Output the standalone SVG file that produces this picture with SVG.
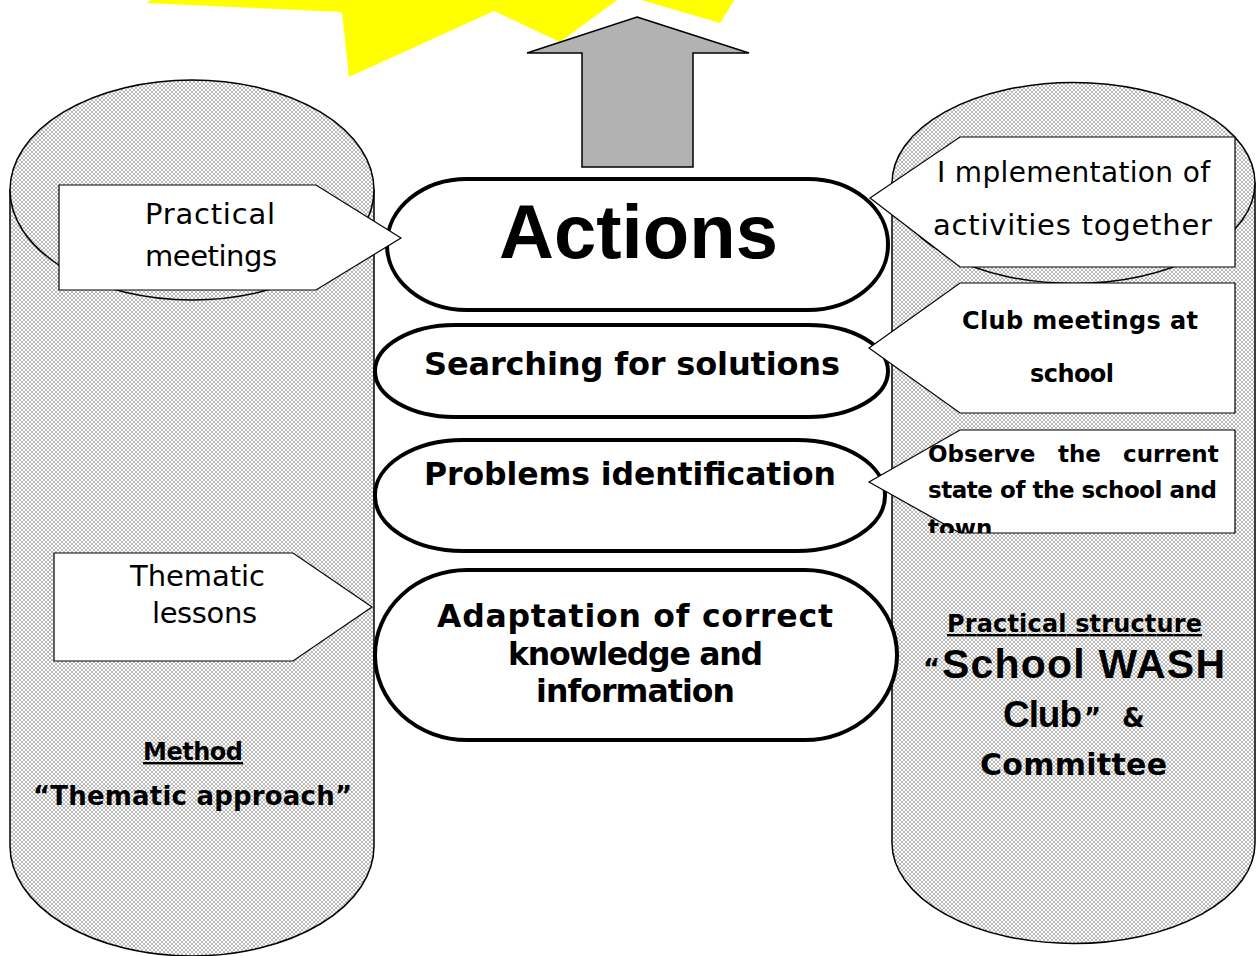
<svg xmlns="http://www.w3.org/2000/svg" width="1256" height="956" viewBox="0 0 1256 956">
<defs>
  <pattern id="hatch" width="4" height="4" patternUnits="userSpaceOnUse">
    <rect width="4" height="4" fill="#ffffff"/>
    <path d="M0,0 L4,4 M4,0 L0,4" stroke="#9a9a9a" stroke-width="0.7"/>
  </pattern>
  <clipPath id="clipObs"><rect x="860" y="425" width="380" height="108"/></clipPath>
</defs>
<style>
  .cyl{fill:url(#hatch);stroke:#000;stroke-width:1.5}
  .pill{fill:#fff;stroke:#000;stroke-width:4}
  .call{fill:#fff;stroke:#000;stroke-width:1.2}
  text{font-family:"DejaVu Sans","Liberation Sans",Arial,sans-serif;fill:#000}
  .lib{font-family:"Liberation Sans",Arial,sans-serif}
  .b{font-weight:bold}
  .u{text-decoration:underline}
</style>
<rect width="1256" height="956" fill="#fff"/>

<g id="star">
  <polygon fill="#ffff00" points="146,3 342,12 349,77 494,11 560,42 624,-5 720,23 750,-25 200,-25"/>
</g>

<g id="cyl-left">
  <path class="cyl" d="M10,190 L10,846 A182,110 0 0 0 374,846 L374,190 Z"/>
  <ellipse class="cyl" cx="192" cy="190" rx="182" ry="110"/>
  <text class="b u" x="143" y="760" font-size="24" textLength="100" lengthAdjust="spacing">Method</text>
  <text class="b" x="33" y="805" font-size="26" textLength="319" lengthAdjust="spacing">“Thematic approach”</text>
</g>

<g id="cyl-right">
  <path class="cyl" d="M892,183 L892,843 A181.5,100.5 0 0 0 1255,843 L1255,183 Z"/>
  <ellipse class="cyl" cx="1073.5" cy="183" rx="181.5" ry="100.5"/>
  <text class="b u" x="947" y="632" font-size="24" textLength="255" lengthAdjust="spacing">Practical structure</text>
  <text class="b" x="923" y="678" font-size="26">“</text>
  <text class="b lib" x="942" y="678" font-size="41" textLength="283" lengthAdjust="spacing">School WASH</text>
  <text class="b lib" x="1003" y="727" font-size="37" textLength="79" lengthAdjust="spacing">Club</text>
  <text class="b" x="1084" y="727" font-size="26">”</text>
  <text class="b" x="1122" y="727" font-size="26">&amp;</text>
  <text class="b" x="980" y="775" font-size="30" textLength="187" lengthAdjust="spacing">Committee</text>
</g>

<g id="connectors">
  <polygon fill="#b2b2b2" stroke="#000" stroke-width="1.5" points="637,17 749,53 693,53 693,167 582,167 582,53 527,53"/>
</g>

<g id="pill-actions">
  <rect class="pill" x="387" y="179" width="501" height="131" rx="80" ry="65"/>
  <text class="b lib" x="499" y="258" font-size="76" textLength="279" lengthAdjust="spacing">Actions</text>
</g>
<g id="pill-searching">
  <rect class="pill" x="375" y="325" width="513" height="92" rx="80" ry="46"/>
  <text class="b" x="424" y="375" font-size="32" textLength="416" lengthAdjust="spacing">Searching for solutions</text>
</g>
<g id="pill-problems">
  <rect class="pill" x="375" y="440" width="510" height="111" rx="88" ry="55"/>
  <text class="b" x="424" y="485" font-size="31.5" textLength="412" lengthAdjust="spacing">Problems identification</text>
</g>
<g id="pill-adaptation">
  <rect class="pill" x="375" y="570" width="522" height="170" rx="92" ry="85"/>
  <text class="b" font-size="31.5">
    <tspan x="437" y="627" textLength="396" lengthAdjust="spacing">Adaptation of correct</tspan>
    <tspan x="508" y="665" textLength="255" lengthAdjust="spacing">knowledge and</tspan>
    <tspan x="536" y="702" textLength="199" lengthAdjust="spacing">information</tspan>
  </text>
</g>

<g id="callout-practical-meetings">
  <polygon class="call" points="59,185 316,185 401,238 316,290 59,290"/>
  <text x="145" y="224" font-size="29" textLength="130" lengthAdjust="spacing">Practical</text>
  <text x="145" y="266" font-size="29" textLength="132" lengthAdjust="spacing">meetings</text>
</g>
<g id="callout-thematic-lessons">
  <polygon class="call" points="54,553 293,553 372,607 293,661 54,661"/>
  <text x="130" y="586" font-size="29" textLength="135" lengthAdjust="spacing">Thematic</text>
  <text x="152" y="623" font-size="29" textLength="105" lengthAdjust="spacing">lessons</text>
</g>
<g id="callout-implementation">
  <polygon class="call" points="1235,137 960,137 870,198 960,267 1235,267"/>
  <text x="937" y="182" font-size="28" textLength="273" lengthAdjust="spacing">I mplementation of</text>
  <text x="933" y="235" font-size="29" textLength="279" lengthAdjust="spacing">activities together</text>
</g>
<g id="callout-club">
  <polygon class="call" points="1235,283 960,283 869,348 960,413 1235,413"/>
  <text class="b" x="962" y="329" font-size="24" textLength="236" lengthAdjust="spacing">Club meetings at</text>
  <text class="b" x="1030" y="382" font-size="24" textLength="84" lengthAdjust="spacing">school</text>
</g>
<g id="callout-observe">
  <polygon class="call" points="1235,430 960,430 869,482 960,533 1235,533"/>
  <g clip-path="url(#clipObs)">
    <text class="b" y="462" font-size="23"><tspan x="928">Observe</tspan><tspan x="1058">the</tspan><tspan x="1123">current</tspan></text>
    <text class="b" x="928" y="498" font-size="23" textLength="289" lengthAdjust="spacing">state of the school and</text>
    <text class="b" x="928" y="536" font-size="23">town</text>
  </g>
</g>
</svg>
